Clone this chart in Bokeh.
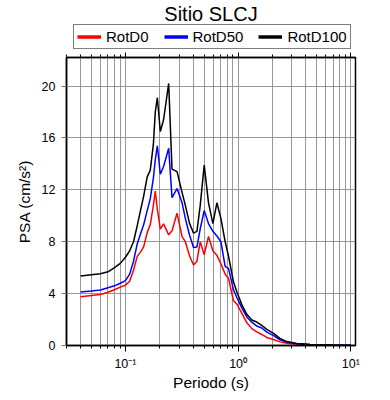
from bokeh.plotting import figure
from bokeh.layouts import column
from bokeh.models import (LogAxis, FixedTicker, Range1d, Legend, LegendItem,
                          CustomJSTickFormatter)
from bokeh.embed import file_html
from bokeh.resources import INLINE

# ---------------- data ----------------
periods = [0.040, 0.050, 0.060, 0.070, 0.080, 0.090, 0.100, 0.109, 0.118, 0.127,
           0.136, 0.145, 0.156, 0.166, 0.177, 0.184, 0.192, 0.204, 0.218, 0.242,
           0.259, 0.287, 0.318, 0.340, 0.371, 0.402, 0.431, 0.461, 0.500, 0.546,
           0.597, 0.648, 0.703, 0.767, 0.821, 0.909, 0.974, 1.078, 1.194, 1.322,
           1.464, 1.620, 1.795, 2.050, 2.350, 2.700, 3.310, 4.340, 6.930, 10.0]

rotd100 = [5.35, 5.45, 5.53, 5.68, 6.0, 6.33, 6.8, 7.3, 8.0, 9.2,
           10.4, 11.5, 13.0, 13.5, 15.5, 18.0, 19.1, 16.5, 17.4, 20.2,
           13.6, 13.4, 11.8, 10.8, 9.4, 8.66, 8.8, 10.8, 13.9, 11.0,
           9.4, 11.0, 9.8, 8.0, 6.9, 4.91, 4.15, 3.15, 2.4, 1.97,
           1.81, 1.55, 1.25, 0.95, 0.55, 0.3, 0.15, 0.08, 0.03, 0.02]

rotd50 = [4.13, 4.2, 4.28, 4.45, 4.6, 4.8, 5.0, 5.5, 6.5, 7.8,
          8.6, 9.3, 10.4, 11.3, 12.9, 14.3, 15.4, 13.2, 13.8, 15.2,
          11.4, 12.1, 11.0, 9.8, 8.5, 7.55, 7.6, 9.0, 10.4, 9.4,
          8.8, 8.45, 8.0, 6.1, 5.95, 4.3, 3.7, 2.9, 2.2, 1.8,
          1.5, 1.35, 1.03, 0.78, 0.44, 0.26, 0.14, 0.07, 0.03, 0.02]

rotd0 = [3.75, 3.85, 3.93, 4.1, 4.3, 4.5, 4.65, 4.95, 5.8, 6.85,
         7.2, 7.6, 8.7, 9.3, 10.8, 11.9, 10.5, 8.97, 9.38, 8.53,
         8.85, 10.2, 8.4, 8.0, 6.9, 6.2, 6.5, 8.0, 7.0, 8.4,
         7.3, 6.95, 6.3, 5.5, 5.17, 3.45, 3.2, 2.5, 1.75, 1.3,
         1.05, 0.85, 0.62, 0.46, 0.28, 0.17, 0.1, 0.06, 0.03, 0.02]

series_labels = ["RotD0", "RotD50", "RotD100"]
series_colors = ["red", "blue", "black"]

x_major = [0.1, 1.0, 10.0]
x_minor = [0.03, 0.04, 0.05, 0.06, 0.07, 0.08, 0.09,
           0.2, 0.3, 0.4, 0.5, 0.6, 0.7, 0.8, 0.9,
           2, 3, 4, 5, 6, 7, 8, 9]
x_tick_labels = ["10\u207b\u00b9", "10\u2070", "10\u00b9"]
y_ticks = [0, 4, 8, 12, 16, 20]

FONT = "Liberation Sans"
BL, BR = 66, 35

# ---------------- header (title + legend) ----------------
head = figure(width=390, height=50, x_range=Range1d(0, 1), y_range=Range1d(0, 1),
              x_axis_location=None, y_axis_location=None,
              output_backend="svg", toolbar_location=None,
              min_border_left=BL, min_border_right=BR,
              min_border_top=0, min_border_bottom=0)
head.grid.visible = False
head.outline_line_color = None
head.title.text = "Sitio SLCJ"
head.title.text_font = FONT
head.title.text_font_size = "20px"
head.title.text_font_style = "normal"
head.title.text_color = "black"
head.title.align = "center"
head.title.standoff = 0

# ---------------- main plot ----------------
p = figure(width=390, height=350, x_axis_type="log",
           x_range=Range1d(0.03, 11), y_range=Range1d(0, 22.2),
           output_backend="svg", toolbar_location=None,
           min_border_left=BL, min_border_right=BR,
           min_border_bottom=55, min_border_top=7)

p.outline_line_color = "black"
p.outline_line_width = 1.5

xt = FixedTicker(ticks=x_major, minor_ticks=x_minor)
yt = FixedTicker(ticks=y_ticks, minor_ticks=[])

fmt = CustomJSTickFormatter(args=dict(labels=x_tick_labels), code="""
const k = Math.round(Math.log10(tick));
return labels[k + 1];
""")
blank = CustomJSTickFormatter(code="return '';")

xa = p.xaxis[0]
xa.ticker = xt
xa.formatter = fmt
xa.axis_label = "Periodo (s)"
ya = p.yaxis[0]
ya.ticker = yt
ya.axis_label = "PSA (cm/s\u00b2)"

for ax in (xa, ya):
    ax.axis_label_text_font = FONT
    ax.axis_label_text_font_size = "15.5px"
    ax.axis_label_text_font_style = "normal"
    ax.axis_label_text_color = "black"
    ax.major_label_text_font = FONT
    ax.major_label_text_font_size = "12.5px"
    ax.major_label_text_color = "black"
    ax.axis_line_color = "black"
    ax.axis_line_width = 1.5
    ax.major_tick_in = 0
    ax.minor_tick_in = 0

xa.major_tick_out = 6
xa.minor_tick_out = 3
xa.major_tick_line_color = "black"
xa.minor_tick_line_color = "black"
xa.major_label_standoff = 5
xa.axis_label_standoff = 0

ya.major_tick_out = 5
ya.major_tick_line_color = "#777777"
ya.major_label_standoff = 6
ya.axis_label_standoff = 6

top = LogAxis(ticker=xt, formatter=blank,
              major_tick_in=0, minor_tick_in=0, major_tick_out=5, minor_tick_out=3,
              axis_line_color="black", axis_line_width=1.5,
              major_label_standoff=0, major_label_text_font_size="1px")
p.add_layout(top, "above")

p.xgrid.ticker = xt
p.xgrid.grid_line_color = "#8c8c8c"
p.xgrid.grid_line_width = 0.9
p.xgrid.minor_grid_line_color = "#8c8c8c"
p.xgrid.minor_grid_line_width = 0.9
p.ygrid.ticker = yt
p.ygrid.grid_line_color = "#8c8c8c"
p.ygrid.grid_line_width = 0.9

items = []
for vals, lab, col in zip([rotd0, rotd50, rotd100], series_labels, series_colors):
    p.line(periods, vals, line_color=col, line_width=1.5)
    # legend swatch renderer, kept outside the header's visible range
    d = head.line([0, 1], [-5, -5], line_color=col, line_width=3.5)
    items.append(LegendItem(label=lab, renderers=[d]))

legend = Legend(items=items, orientation="horizontal", location=(7, 1),
                label_text_font=FONT, label_text_font_size="15px",
                label_text_color="black",
                glyph_width=24, glyph_height=15, label_height=15,
                label_standoff=5, spacing=15, padding=3, margin=0,
                border_line_color="black", border_line_width=1.5,
                background_fill_color="white", background_fill_alpha=1)
head.add_layout(legend, "center")

layout = column(head, p, spacing=0)
open("out.html", "w").write(file_html(layout, INLINE))
